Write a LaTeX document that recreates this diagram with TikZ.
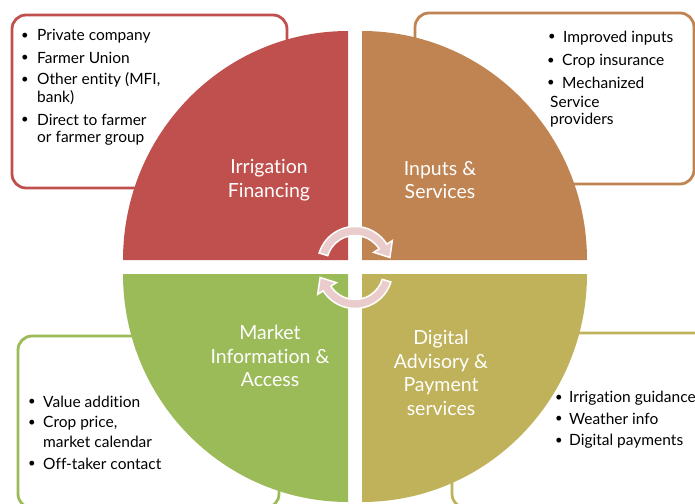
\documentclass[tikz,border=0pt]{standalone}
\usepackage{fontspec}
\setmainfont{Lato}[Ligatures={NoCommon,NoRare,NoDiscretionary}]
\usetikzlibrary{calc}
\definecolor{qred}{HTML}{C0504D}
\definecolor{qorange}{HTML}{C08452}
\definecolor{qgreen}{HTML}{9BBB59}
\definecolor{qolive}{HTML}{C0B25A}
\definecolor{arrpink}{HTML}{EACCCD}
\begin{document}
\begin{tikzpicture}[x=1pt,y=-1pt,
  box/.style={line width=2.8pt, fill=white, rounded corners=14pt},
  arr/.style={fill=arrpink, draw=white, line width=1.5pt, line join=miter},
  lbl/.style={text=white, font=\fontsize{19.5}{23.5}\selectfont, align=center, inner sep=0pt},
  item/.style={anchor=west, font=\fontsize{15.5}{18}\selectfont, inner sep=0pt},
  bul/.style={anchor=center, font=\fontsize{13}{18}\selectfont, inner sep=0pt}]
\useasboundingbox (0,0) rectangle (695,503);
\clip (0,0) rectangle (695,503);
% text boxes
\draw[box, draw=qred] (12,15) rectangle (287,188);
\draw[box, draw=qorange] (415,13) rectangle (694,184);
\draw[box, draw=qgreen] (18,336) rectangle (279,508);
\draw[box, draw=qolive] (452,333) rectangle (720,508);
% quadrants
\fill[qred] (348,260) -- (123,260) arc[start angle=180,end angle=270,x radius=225,y radius=229] -- cycle;
\fill[qorange] (362,260) -- (362,31) arc[start angle=270,end angle=360,x radius=225,y radius=229] -- cycle;
\fill[qolive] (362,274) -- (587,274) arc[start angle=0,end angle=90,x radius=225,y radius=228] -- cycle;
\fill[qgreen] (348,274) -- (348,502) arc[start angle=90,end angle=180,x radius=225,y radius=228] -- cycle;
% circular arrows
\coordinate (cu) at (355,264);
\coordinate (cl) at (355,271);
\filldraw[arr] ($(cu)+(197:37.5)$) arc[start angle=197,end angle=328,radius=37.5]
  -- ($(cu)+(328:44)$) -- ($(cu)+(328:33)+(58:13)$) -- ($(cu)+(328:22)$)
  -- ($(cu)+(328:28.5)$) arc[start angle=328,end angle=197,radius=28.5] -- cycle;
\filldraw[arr] ($(cl)+(17:37.5)$) arc[start angle=17,end angle=148,radius=37.5]
  -- ($(cl)+(148:44)$) -- ($(cl)+(148:33)+(238:13)$) -- ($(cl)+(148:22)$)
  -- ($(cl)+(148:28.5)$) arc[start angle=148,end angle=17,radius=28.5] -- cycle;
% quadrant labels
\node[lbl] (lf) at (269,180) {Irrigation\\Financing};
\node[lbl] (li) at (440,180) {Inputs \&\\Services};
\node[lbl] (lm) at (270,356) {Market\\Information \&\\Access};
\node[lbl] (ld) at (441,373) {Digital\\Advisory \&\\Payment\\services};
% red box items
\node[bul] (rb1) at (25,36) {•};
\node[item] (r1) at (37,36) {Private company};
\node[bul] (rb2) at (25,58) {•};
\node[item] (r2) at (37,58) {Farmer Union};
\node[bul] (rb3) at (25,80) {•};
\node[item] (r3) at (37,80) {Other entity (MFI,};
\node[item] (r3b) at (37,98) {bank)};
\node[bul] (rb4) at (25,120) {•};
\node[item] (r4) at (37,120) {Direct to farmer};
\node[item] (r4b) at (37,138) {or farmer group};
% orange box items
\node[bul] (ob1) at (552,37) {•};
\node[item] (o1) at (563,38) {Improved inputs};
\node[bul] (ob2) at (551,61) {•};
\node[item] (o2) at (562,61) {Crop insurance};
\node[bul] (ob3) at (551,83) {•};
\node[item] (o3) at (562,83) {Mechanized};
\node[item] (o3b) at (550,102) {Service};
\node[item] (o3c) at (550,120) {providers};
% green box items
\node[bul] (gb1) at (32,402) {•};
\node[item] (g1) at (43,402) {Value addition};
\node[bul] (gb2) at (32,423) {•};
\node[item] (g2) at (43,423) {Crop price,};
\node[item] (g2b) at (43,442) {market calendar};
\node[bul] (gb3) at (32,464) {•};
\node[item] (g3) at (43,464) {Off-taker contact};
% olive box items
\node[bul] (vb1) at (559,398) {•};
\node[item] (v1) at (569,398) {Irrigation guidance};
\node[bul] (vb2) at (559,419) {•};
\node[item] (v2) at (569,419) {Weather info};
\node[bul] (vb3) at (559,441) {•};
\node[item] (v3) at (569,441) {Digital payments};
\end{tikzpicture}
\end{document}
